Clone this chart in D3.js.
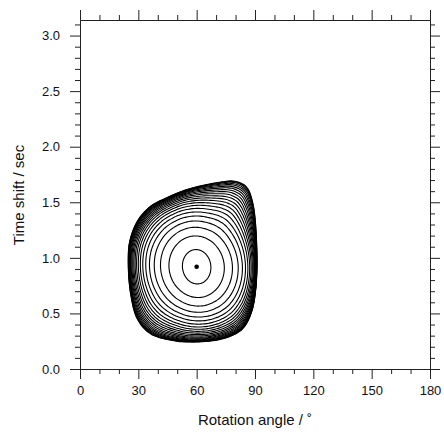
<!DOCTYPE html>
<html><head><meta charset="utf-8">
<script src="https://cdn.jsdelivr.net/npm/d3@7"></script>
<style>html,body{margin:0;padding:0;background:#fff;}svg{display:block;font-family:"Liberation Sans",Arial,sans-serif;}</style>
</head><body>
<script>
// ---- data ----
const angleDomain = [0, 180];
const timeDomain = [0, 3.14];
const angleTicksMajor = [0, 30, 60, 90, 120, 150, 180];
const angleTicksMinor = [10, 20, 40, 50, 70, 80, 100, 110, 130, 140, 160, 170];
const timeTicksMajor = [0, 0.5, 1.0, 1.5, 2.0, 2.5, 3.0];
const timeTicksMinor = [0.1,0.2,0.3,0.4,0.6,0.7,0.8,0.9,1.1,1.2,1.3,1.4,1.6,1.7,1.8,1.9,2.1,2.2,2.3,2.4,2.6,2.7,2.8,2.9,3.1];
const timeTickLabels = ["0.0","0.5","1.0","1.5","2.0","2.5","3.0"];
const bestAngle = 60;
const bestTime = 0.92;
// outermost contour, read around the shape
const outerAngle = [24.8, 25.6, 29.5, 36.0, 44.5, 55.0, 70.0, 79.5, 85.5, 88.8, 90.9, 90.4, 88.0, 83.5, 75.0, 62.0, 48.0, 36.0, 29.5, 26.0];
const outerTime  = [0.98, 1.15, 1.33, 1.46, 1.54, 1.615, 1.675, 1.69, 1.64, 1.50, 1.10, 0.72, 0.50, 0.36, 0.28, 0.245, 0.255, 0.32, 0.45, 0.68];
// innermost contour semi-axes (deg, sec)
const innerSemiAxes = [7.3, 0.155];
// relative size of each contour level, read along the vertical and along the horizontal through the minimum
const levelFractionsVertical   = [0.195, 0.35, 0.45, 0.525, 0.585, 0.635, 0.68, 0.72, 0.755, 0.787, 0.816, 0.843, 0.868, 0.891, 0.912, 0.931, 0.948, 0.963, 0.976, 0.987, 0.995, 1.0];
const levelFractionsHorizontal = [0.2, 0.39, 0.51, 0.6, 0.67, 0.725, 0.77, 0.807, 0.838, 0.865, 0.888, 0.908, 0.925, 0.94, 0.953, 0.964, 0.974, 0.982, 0.989, 0.994, 0.998, 1.0];

const W = 444, H = 439;
const svg = d3.select("body").append("svg").attr("width", W).attr("height", H);
const x = d3.scaleLinear().domain(angleDomain).range([80, 430]);
const y = d3.scaleLinear().domain(timeDomain).range([369, 20]);

// ---- contours ----
const cx = x(bestAngle), cy = y(bestTime);
const closedLine = d3.line().curve(d3.curveCatmullRomClosed.alpha(0.5));
const outerPx = outerAngle.map((a, i) => [x(a), y(outerTime[i])]);
const helper = svg.append("path").attr("d", closedLine(outerPx)).attr("fill", "none").attr("stroke", "none");
const node = helper.node(), L = node.getTotalLength();
const samples = d3.range(0, 720).map(k => {
  const p = node.getPointAtLength(L * k / 720);
  return {ang: Math.atan2(p.y - cy, p.x - cx), r: Math.hypot(p.x - cx, p.y - cy)};
}).sort((p, q) => p.ang - q.ang);
helper.remove();
const n = samples.length;
function outerR(phi) {
  let i = d3.bisector(d => d.ang).left(samples, phi);
  const i1 = (i - 1 + n) % n, i2 = i % n;
  let a1 = samples[i1].ang, a2 = samples[i2].ang;
  if (a2 <= a1) a2 += 2 * Math.PI;
  let p = phi; if (p < a1) p += 2 * Math.PI;
  const t = (p - a1) / (a2 - a1);
  return samples[i1].r * (1 - t) + samples[i2].r * t;
}
const ea = x(bestAngle + innerSemiAxes[0]) - cx;
const eB = Math.abs(y(bestTime - innerSemiAxes[1]) - cy);
const tilt = -0.12;
function ellR(phi) {
  const p = phi - tilt;
  return ea * eB / Math.sqrt(Math.pow(eB * Math.cos(p), 2) + Math.pow(ea * Math.sin(p), 2));
}
const NA = 180;
const g = svg.append("g");
levelFractionsVertical.forEach((fv, li) => {
  const fh = levelFractionsHorizontal[li];
  const pts = d3.range(NA).map(k => {
    const phi = -Math.PI + 2 * Math.PI * k / NA;
    const w = Math.pow(Math.sin(phi), 2);
    const f = w * fv + (1 - w) * fh;
    const f0 = w * levelFractionsVertical[0] + (1 - w) * levelFractionsHorizontal[0];
    const t = Math.max(0, (f - f0) / (1 - f0));
    const b = Math.pow(t, 2.5);
    const r = (1 - b) * ellR(phi) * (f / f0) + b * f * outerR(phi);
    return [cx + r * Math.cos(phi), cy + r * Math.sin(phi)];
  });
  g.append("path").attr("d", closedLine(pts)).attr("fill", "none").attr("stroke", "#000").attr("stroke-width", 1.1);
});
svg.append("circle").attr("cx", cx).attr("cy", cy).attr("r", 2.3).attr("fill", "#000");

// ---- axes ----
const ax = "#222";
function axis(gen, tr, vals, size, fmt) {
  const a = svg.append("g").attr("transform", tr)
    .call(gen.tickValues(vals).tickSizeInner(size).tickSizeOuter(0).tickPadding(5).tickFormat(fmt));
  a.select(".domain").attr("stroke", ax).attr("stroke-width", 1);
  a.selectAll(".tick line").attr("stroke", ax).attr("stroke-width", 1);
  return a;
}
const bx = axis(d3.axisBottom(x), "translate(0,369)", angleTicksMajor, 10, d3.format("d"));
bx.selectAll("text").attr("font-size", 13).attr("fill", "#111").attr("dy", "0.95em").attr("y", 14);
axis(d3.axisBottom(x), "translate(0,369)", angleTicksMinor, 5, () => "");
axis(d3.axisTop(x), "translate(0,20)", angleTicksMajor, 10, () => "");
axis(d3.axisTop(x), "translate(0,20)", angleTicksMinor, 5, () => "");
const ly = axis(d3.axisLeft(y), "translate(80,0)", timeTicksMajor, 10, (d, i) => timeTickLabels[i]);
ly.selectAll("text").attr("font-size", 13).attr("fill", "#111").attr("x", -20);
axis(d3.axisLeft(y), "translate(80,0)", timeTicksMinor, 5, () => "");
axis(d3.axisRight(y), "translate(430,0)", timeTicksMajor, 10, () => "");
axis(d3.axisRight(y), "translate(430,0)", timeTicksMinor, 5, () => "");

svg.append("text").attr("x", 255).attr("y", 425).attr("text-anchor", "middle")
  .attr("font-size", 15).attr("fill", "#111").text("Rotation angle / ˚");
svg.append("text").attr("transform", "translate(24,195) rotate(-90)").attr("text-anchor", "middle")
  .attr("font-size", 15).attr("fill", "#111").text("Time shift / sec");
</script>
</body></html>
